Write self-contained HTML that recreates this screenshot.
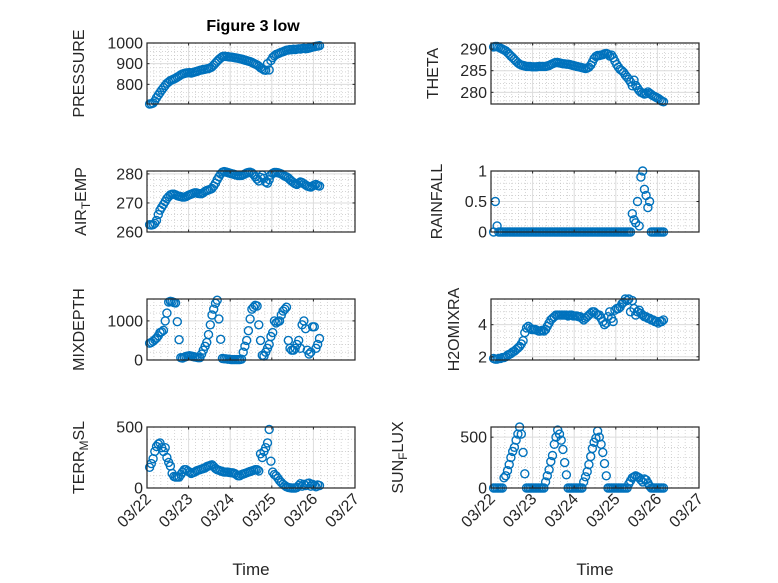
<!DOCTYPE html>
<html><head><meta charset="utf-8"><style>
html,body{margin:0;padding:0;background:#fff;}
svg{display:block;font-family:"Liberation Sans",sans-serif;}
</style></head><body>
<svg id="fig" width="778" height="583" viewBox="0 0 778 583" xmlns="http://www.w3.org/2000/svg">
<rect x="0" y="0" width="778" height="583" fill="#fff"/>
<text x="253" y="31" text-anchor="middle" font-size="16" font-weight="bold" fill="#000">Figure 3 low</text>
</svg>
<script>
const xTickLabels = ["03/22","03/23","03/24","03/25","03/26","03/27"];
const pressure = [705,706,710,720,735,748,760,772,784,795,805,812,818,822,826,830,835,840,846,850,853,855,856,857,855,857,860,862,865,868,870,872,873,875,876,880,885,893,903,912,920,928,934,936,935,934,933,932,931,929,928,926,924,922,920,917,915,912,910,906,902,898,894,888,880,875,870,868,900,870,915,930,938,945,948,952,955,958,962,965,966,968,967,970,968,970,972,971,973,975,972,974,976,978,980,982,984,985,987];
const theta = [290.5,290.6,290.6,290.4,290.2,290.0,289.8,289.6,289.2,288.8,288.4,288.0,287.6,287.2,286.8,286.5,286.3,286.2,286.1,286.0,286.0,286.0,285.9,285.9,285.9,285.9,286.0,286.0,286.0,286.0,286.0,286.1,286.2,286.4,286.6,286.8,286.9,286.9,286.8,286.7,286.6,286.6,286.5,286.5,286.4,286.3,286.2,286.1,286.0,285.9,285.8,285.7,285.6,285.5,285.6,285.8,286.3,287.0,287.8,288.3,288.5,288.5,288.6,288.7,288.9,289.0,288.8,288.4,288.6,288.0,287.2,286.4,285.8,285.3,285.0,284.6,284.0,283.5,283.0,282.4,281.5,282.8,281.6,281.0,280.4,280.0,279.8,279.6,279.7,280.1,279.8,279.5,279.2,279.0,278.8,278.6,278.3,278.0,277.8];
const airTemp = [262.5,262.4,262.5,263,264,266,267.5,268.5,269.5,270.5,271.5,272.2,272.8,273,273,272.8,272.5,272.3,272.2,272,272,272.2,272.5,272.8,273,273.3,273.5,273.5,273.3,273.2,273.2,273.5,274,274.3,274.5,274.7,275,275.8,276.8,278,279,280,280.6,280.8,280.7,280.5,280.3,280.1,280,279.8,279.6,279.5,279.4,279.5,279.7,280,280.3,280.5,280.6,280.3,279.8,279,278.2,277.6,278.8,279.6,278.5,277.2,276.8,278,279.6,280.2,280.5,280.5,280.4,280.2,280,279.6,279.2,279,278.6,278,277.5,277,276.6,276.4,276.8,277.2,277,276.6,276.2,275.8,275.6,275.5,275.8,276.2,276.4,276,275.8];
const rainfall = [0,0.5,0.1,0,0,0,0,0,0,0,0,0,0,0,0,0,0,0,0,0,0,0,0,0,0,0,0,0,0,0,0,0,0,0,0,0,0,0,0,0,0,0,0,0,0,0,0,0,0,0,0,0,0,0,0,0,0,0,0,0,0,0,0,0,0,0,0,0,0,0,0,0,0,0,0,0,0,0,0,0,0.3,0.2,0.15,0.5,0.1,0.9,1.0,0.7,0.6,0.4,0.5,0,0,0,0,0,0,0,0];
const mixDepth = [430,450,480,520,560,620,700,720,760,1000,1200,1480,1500,1490,1470,1460,980,520,60,50,70,90,100,110,100,90,80,70,60,60,150,250,350,450,650,900,1150,1300,1450,1530,1050,530,40,30,30,20,20,10,10,10,10,10,10,20,200,350,500,750,1050,1300,1350,1400,1380,900,500,120,100,200,300,400,600,700,1000,950,980,1000,1150,1250,1300,1350,500,300,250,250,300,400,500,300,900,1000,800,250,150,200,850,850,300,400,550];
const h2oMix = [1.9,1.85,1.85,1.9,1.9,1.95,1.95,2.0,2.1,2.15,2.2,2.3,2.35,2.45,2.55,2.65,2.8,3.0,3.5,3.8,3.9,3.8,3.7,3.7,3.7,3.65,3.6,3.6,3.65,3.6,3.7,3.9,4.1,4.3,4.4,4.5,4.6,4.6,4.6,4.6,4.6,4.6,4.6,4.55,4.6,4.6,4.55,4.55,4.55,4.5,4.5,4.4,4.3,4.4,4.5,4.6,4.7,4.8,4.8,4.7,4.6,4.6,4.4,4.2,4.0,4.1,4.5,4.8,4.4,4.2,4.9,5.0,5.0,5.1,5.3,5.4,5.6,5.5,5.6,4.8,5.5,5.0,4.6,4.8,4.9,4.7,4.6,4.5,4.5,4.4,4.4,4.3,4.3,4.2,4.2,4.1,4.2,4.2,4.3];
const terrMsl = [170,200,240,300,340,360,370,330,300,330,250,210,180,120,95,90,90,90,110,130,150,150,140,130,120,125,130,140,145,150,155,160,165,175,180,185,190,175,160,150,145,140,135,130,130,130,128,125,125,120,110,100,100,110,115,120,125,130,135,140,145,150,150,140,280,250,300,330,370,480,220,130,110,100,80,60,45,30,20,10,5,2,0,0,0,5,20,35,15,30,20,35,40,15,30,20,10,25,20];
const sunFlux = [0,0,0,0,0,0,100,120,170,230,300,360,400,470,530,600,530,350,140,0,0,0,0,0,0,0,0,0,0,0,60,120,180,260,320,430,500,570,530,470,380,250,130,0,0,0,0,0,0,0,0,0,60,110,160,230,310,390,450,490,560,500,430,350,240,120,0,0,0,0,0,0,0,0,0,0,0,0,40,70,100,110,120,110,100,80,60,90,80,50,20,0,0,0,0,0,0,0,0];

const NS="http://www.w3.org/2000/svg";
const svg=document.getElementById('fig');
function mk(tag,attrs,parent){const e=document.createElementNS(NS,tag);for(const k in attrs)e.setAttribute(k,attrs[k]);(parent||svg).appendChild(e);return e;}

const panels=[
 {name:'pressure',label:'PRESSURE',data:pressure,col:0,row:0,ymin:705,ymax:1000,ticks:[800,900,1000],minor:20,lx:78},
 {name:'theta',label:'THETA',data:theta,col:1,row:0,ymin:277.3,ymax:291.4,ticks:[280,285,290],minor:1,lx:432},
 {name:'air-temp',label:'AIR',sub:'T',rest:'EMP',data:airTemp,col:0,row:1,ymin:260,ymax:281,ticks:[260,270,280],minor:2,lx:80},
 {name:'rainfall',label:'RAINFALL',data:rainfall,col:1,row:1,ymin:0,ymax:1.0,ticks:[0,0.5,1],minor:0.1,lx:436},
 {name:'mixdepth',label:'MIXDEPTH',data:mixDepth,col:0,row:2,ymin:0,ymax:1560,ticks:[0,1000],minor:200,lx:78},
 {name:'h2omixra',label:'H2OMIXRA',data:h2oMix,col:1,row:2,ymin:1.8,ymax:5.6,ticks:[2,4],minor:0.4,lx:453},
 {name:'terr-msl',label:'TERR',sub:'M',rest:'SL',data:terrMsl,col:0,row:3,ymin:0,ymax:500,ticks:[0,500],minor:100,lx:78},
 {name:'sun-flux',label:'SUN',sub:'F',rest:'LUX',data:sunFlux,col:1,row:3,ymin:0,ymax:600,ticks:[0,500],minor:100,lx:397}
];
const colX=[147,491], W=208, rowY=[43,171,299,427], H=61, dayW=W/5;

panels.forEach(p=>{
 const L=colX[p.col], T=rowY[p.row];
 const g=mk('g',{});
 
 
 const xs=h=>L+((h+1.5)/24)*dayW;
 const ys=v=>T+H-(v-p.ymin)/(p.ymax-p.ymin)*H;
 mk('rect',{x:L,y:T,width:W,height:H,fill:'#fff'},g);
 for(let m=0;m<=30;m++){const x=L+m*dayW/6; if(m%6) mk('line',{x1:x,x2:x,y1:T,y2:T+H,stroke:'#bbb','stroke-width':0.6,'stroke-dasharray':'1,2'},g);}
 const start=Math.ceil(p.ymin/p.minor);
 for(let k=start;k*p.minor<=p.ymax+1e-9;k++){const v=k*p.minor;if(p.ticks.some(t=>Math.abs(t-v)<1e-9))continue;const y=ys(v);mk('line',{x1:L,x2:L+W,y1:y,y2:y,stroke:'#bbb','stroke-width':0.6,'stroke-dasharray':'1,2'},g);}
 for(let d=1;d<5;d++){const x=L+d*dayW;mk('line',{x1:x,x2:x,y1:T,y2:T+H,stroke:'#dcdcdc','stroke-width':1},g);}
 p.ticks.forEach(t=>{const y=ys(t);mk('line',{x1:L,x2:L+W,y1:y,y2:y,stroke:'#dcdcdc','stroke-width':1},g);});
 p.data.forEach((v,i)=>{const c=mk('circle',{cx:xs(i).toFixed(1),cy:ys(v).toFixed(1),r:4,fill:'none',stroke:'#0072BD','stroke-width':1.4},g);
  
  });
 mk('rect',{x:L,y:T,width:W,height:H,fill:'none',stroke:'#262626','stroke-width':1.2},g);
 for(let d=0;d<=5;d++){const x=L+d*dayW;mk('line',{x1:x,x2:x,y1:T+H,y2:T+H-2.5,stroke:'#262626'},g);mk('line',{x1:x,x2:x,y1:T,y2:T+2.5,stroke:'#262626'},g);}
 p.ticks.forEach(t=>{const y=ys(t);mk('line',{x1:L,x2:L+2.5,y1:y,y2:y,stroke:'#262626'},g);mk('line',{x1:L+W,x2:L+W-2.5,y1:y,y2:y,stroke:'#262626'},g);
  const tx=mk('text',{x:L-4,y:y+5.5,'text-anchor':'end','font-size':16,fill:'#262626'},g);tx.textContent=String(t);
  
  });
 const cy=T+H/2;
 const yl=mk('text',{x:0,y:0,'text-anchor':'middle','font-size':16,fill:'#262626',transform:`translate(${p.lx+6},${cy}) rotate(-90)`},g);
 
 
 if(p.sub){yl.appendChild(document.createTextNode(p.label));
  const s=mk('tspan',{'font-size':12,dy:4},yl);s.textContent=p.sub;
  const r=mk('tspan',{'font-size':16,dy:-4},yl);r.textContent=p.rest;
 } else yl.textContent=p.label;
 if(p.row===3){
  xTickLabels.forEach((lab,d)=>{const x=L+d*dayW+5;const t=mk('text',{'text-anchor':'end','font-size':16,fill:'#262626',transform:`translate(${x},${T+H+12}) rotate(-45)`},g);t.textContent=lab;
   
   });
  const xl=mk('text',{x:L+W/2,y:575,'text-anchor':'middle','font-size':17,fill:'#262626'},g);xl.textContent='Time';
  
  
 }
});
</script>
</body></html>
